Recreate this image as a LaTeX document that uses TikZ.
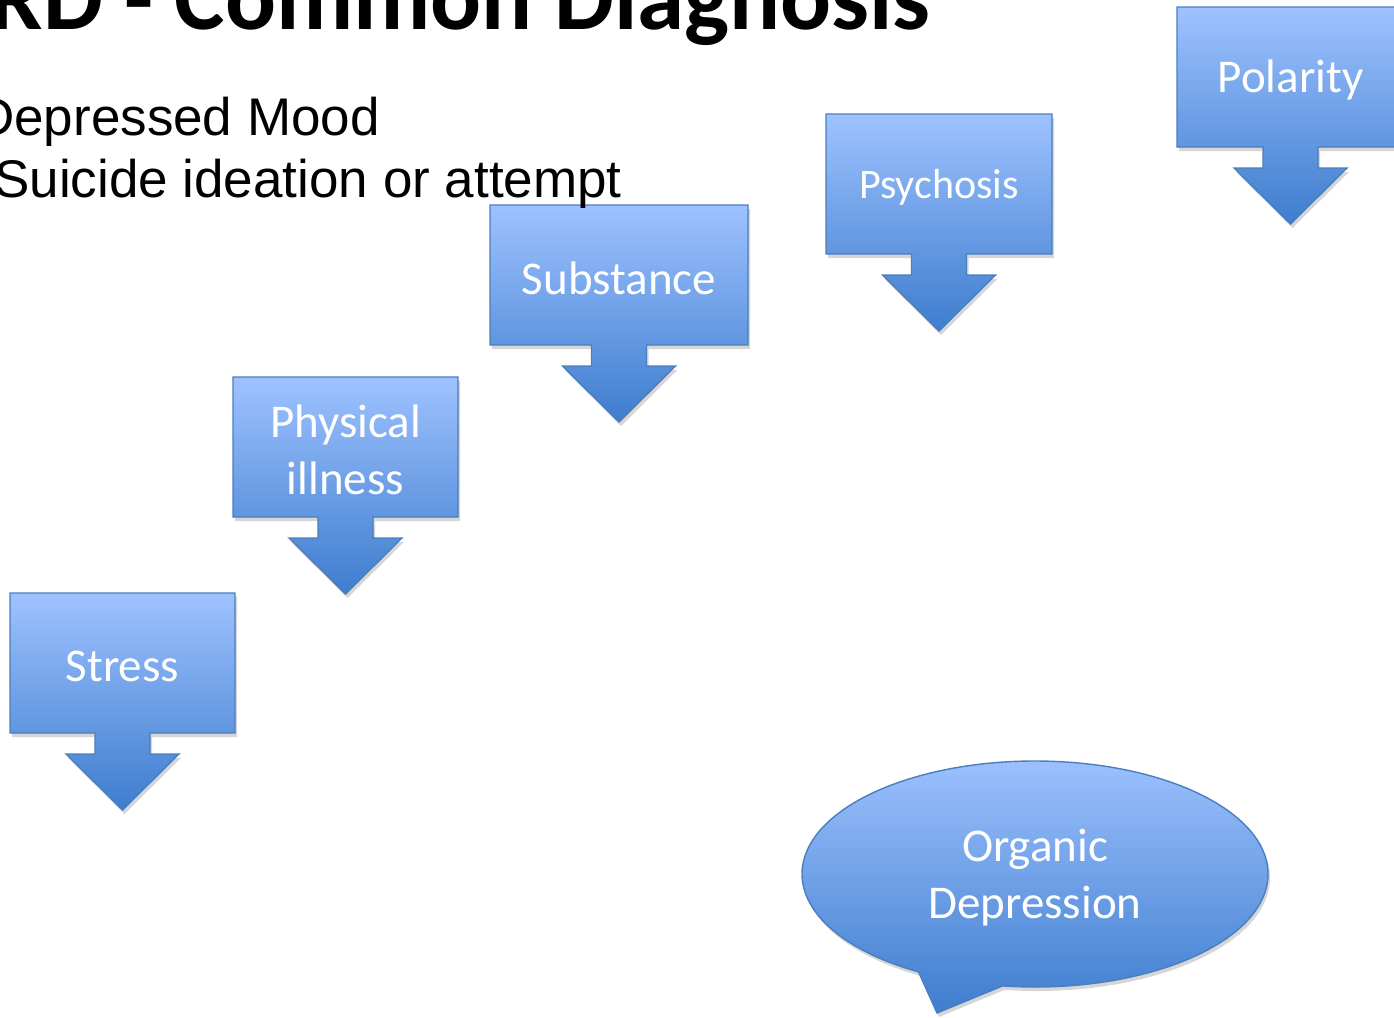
\documentclass[tikz,border=0pt]{standalone}
\usepackage{fontspec}
\setmainfont{Carlito}
\newfontfamily\arialfont{Liberation Sans}
\usetikzlibrary{positioning}
\definecolor{calltop}{RGB}{158,194,255}
\definecolor{callbot}{RGB}{62,125,206}
\definecolor{callline}{RGB}{74,126,190}

% down-arrow callout: name, left, top, right, text, font size
\newcommand{\arrowcallout}[6]{%
  \pgfmathsetmacro{\cx}{(#2+#4)/2}%
  \pgfmathsetmacro{\by}{#3+140}%
  \begin{scope}[shift={(2,4)}]
    \fill[callshadow] (#2,#3) -- (#4,#3) -- (#4,\by) -- (\cx+27.5,\by) -- (\cx+27.5,\by+21)
      -- (\cx+56.5,\by+21) -- (\cx,\by+77) -- (\cx-56.5,\by+21) -- (\cx-27.5,\by+21)
      -- (\cx-27.5,\by) -- (#2,\by) -- cycle;
  \end{scope}
  \draw[callfill] (#2,#3) -- (#4,#3) -- (#4,\by) -- (\cx+27.5,\by) -- (\cx+27.5,\by+21)
    -- (\cx+56.5,\by+21) -- (\cx,\by+77) -- (\cx-56.5,\by+21) -- (\cx-27.5,\by+21)
    -- (\cx-27.5,\by) -- (#2,\by) -- cycle;
  \node[calltext, font=\fontsize{#6}{57}\selectfont] (#1) at (\cx,#3+73) {#5};
}

\begin{document}
\begin{tikzpicture}[
        x=1pt, y=-1pt,
        callfill/.style={draw=callline, line width=1.4pt, top color=calltop,
                         bottom color=callbot, line join=miter},
        callshadow/.style={fill=black, opacity=0.16},
        calltext/.style={text=white, align=center, inner sep=0pt},
        bullet/.style={anchor=base east, inner sep=0pt,
                       font=\arialfont\fontsize{53}{62}\selectfont},
    ]
    \useasboundingbox (0,0) rectangle (1394,1017);
    \clip (0,0) rectangle (1394,1017);

    \arrowcallout{stress}{10}{593}{235}{Stress}{47}
    \arrowcallout{illness}{233}{377}{458}{Physical\\illness}{47}
    \arrowcallout{subst}{490}{205}{748}{Substance}{47}
    \arrowcallout{psych}{826}{114}{1052}{Psychosis}{42}
    \arrowcallout{polar}{1177}{7}{1404}{Polarity}{47}

    % oval callout
    \fill[callshadow] (1037,878) +(98:233 and 113)
        arc[start angle=98, end angle=-240, x radius=233, y radius=113]
        -- (939,1017) -- cycle;
    \draw[callfill] (1035,874) +(98:233 and 113)
        arc[start angle=98, end angle=-240, x radius=233, y radius=113]
        -- (937,1013) -- cycle;
    \node[calltext, font=\fontsize{47}{57}\selectfont] (organic) at (1035,878) {Organic\\Depression};

    \node[anchor=base east, inner sep=0pt, font=\bfseries\fontsize{95}{100}\selectfont]
        (title) at (931,29) {RD - Common Diagnosis};
    \node[bullet] (mood) at (380,135) {Depressed Mood};
    \node[bullet] (suicide) at (622,197) {Suicide ideation or attempt};
\end{tikzpicture}
\end{document}
